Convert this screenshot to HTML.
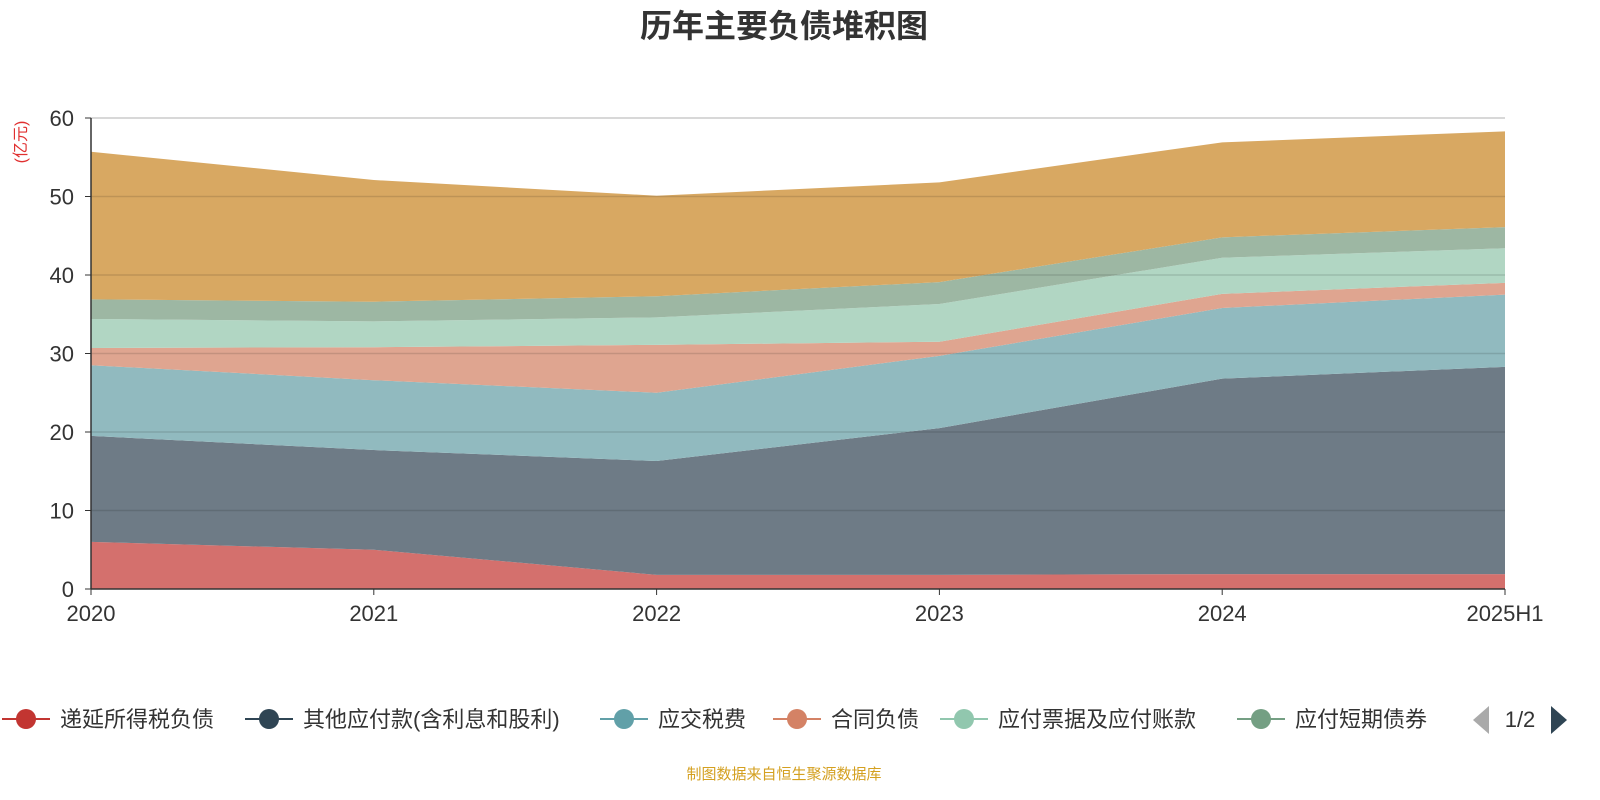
<!DOCTYPE html>
<html><head><meta charset="utf-8">
<style>
body{margin:0;background:#fff;font-family:"Liberation Sans","Noto Sans CJK SC",sans-serif;}
#wrap{position:relative;width:1600px;height:800px;overflow:hidden;}
</style></head>
<body><div id="wrap">
<svg id="svg" width="1600" height="800" xmlns="http://www.w3.org/2000/svg"></svg>
</div>
<script>
const categories=["2020","2021","2022","2023","2024","2025H1"];
const seriesNames=["递延所得税负债","其他应付款(含利息和股利)","应交税费","合同负债","应付票据及应付账款","应付短期债券","其他"];
const s1=[6.0,5.0,1.8,1.8,1.9,1.9];
const s2=[13.5,12.7,14.5,18.7,24.9,26.4];
const s3=[9.0,8.9,8.7,9.2,9.0,9.2];
const s4=[2.2,4.2,6.1,1.8,1.8,1.5];
const s5=[3.7,3.3,3.5,4.8,4.6,4.4];
const s6=[2.5,2.5,2.7,2.8,2.6,2.7];
const s7=[18.8,15.5,12.8,12.7,12.1,12.2];
const yTicks=[0,10,20,30,40,50,60];
const series=[s1,s2,s3,s4,s5,s6,s7];
const fills=["#d4706d","#6e7b86","#91babf","#dfa590","#b1d6c3","#9db7a3","#d8a862"];
const legendColors=["#c23531","#2f4554","#61a0a8","#d48265","#91c7ae","#749f83"];
const NS="http://www.w3.org/2000/svg";
const svg=document.getElementById('svg');
const X0=91,X1=1505,Y0=589,Y1=118,YMAX=60;
const xs=i=>X0+(X1-X0)*i/(categories.length-1);
const ys=v=>Y0-(Y0-Y1)*v/YMAX;
function mk(t,a,p){const e=document.createElementNS(NS,t);for(const k in a)e.setAttribute(k,a[k]);(p||svg).appendChild(e);return e;}
let t=mk('text',{x:784,y:37,'text-anchor':'middle','font-size':32,'font-weight':'bold',fill:'#333'});
t.textContent='历年主要负债堆积图';


let cum=categories.map(()=>0);
series.forEach((s,k)=>{
  const lower=cum.slice();
  cum=cum.map((c,i)=>c+s[i]);
  let d='';
  cum.forEach((v,i)=>{d+=(i?'L':'M')+xs(i)+','+ys(v);});
  for(let i=lower.length-1;i>=0;i--)d+='L'+xs(i)+','+ys(lower[i]);
  const p=mk('path',{d:d+'Z',fill:fills[k]});
  
  
});
yTicks.forEach(v=>{
  const y=ys(v);
  if(v>0){const g=mk('line',{x1:X0,x2:X1,y1:y,y2:y,stroke:v==60?'#ccc':'rgba(0,0,0,0.12)','stroke-width':1.5});
  
  }
  const tk=mk('line',{x1:X0-6,x2:X0,y1:y,y2:y,stroke:'#333'});
  
  
  const l=mk('text',{x:74,y:y+8,'text-anchor':'end','font-size':22,fill:'#333'});
  l.textContent=v;
  
  
});
let ax=mk('line',{x1:X0,x2:X0,y1:Y1,y2:Y0,stroke:'#333','stroke-width':1.5});


ax=mk('line',{x1:X0,x2:X1,y1:Y0,y2:Y0,stroke:'#333','stroke-width':1.5});


categories.forEach((c,i)=>{
  const tk=mk('line',{x1:xs(i),x2:xs(i),y1:Y0,y2:Y0+6,stroke:'#333'});
  
  
  const l=mk('text',{x:xs(i),y:621,'text-anchor':'middle','font-size':22,fill:'#333'});
  l.textContent=c;
  
  
});
let u=mk('text',{x:0,y:0,'font-size':16,fill:'#e03030',transform:'translate(26,142) rotate(-90)','text-anchor':'middle'});
u.textContent='(亿元)';


const lx=[2,245,600,773,940,1237];
seriesNames.slice(0,6).forEach((n,i)=>{
  const g=mk('g',{});
  
  
  mk('line',{x1:lx[i],x2:lx[i]+48,y1:719,y2:719,stroke:legendColors[i],'stroke-width':2},g);
  mk('circle',{cx:lx[i]+24,cy:719,r:10,fill:legendColors[i]},g);
  const l=mk('text',{x:lx[i]+58,y:727,'font-size':22,fill:'#333'},g);
  l.textContent=n;
});
let a=mk('path',{d:'M1473,720L1489,706L1489,734Z',fill:'#aaa'});


let pg=mk('text',{x:1520,y:727,'text-anchor':'middle','font-size':22,fill:'#333'});
pg.textContent='1/2';


a=mk('path',{d:'M1551,706L1567,720L1551,734Z',fill:'#2f4554'});


let f=mk('text',{x:784,y:779,'text-anchor':'middle','font-size':15,fill:'#d4a020'});
f.textContent='制图数据来自恒生聚源数据库';


</script>
</body></html>
